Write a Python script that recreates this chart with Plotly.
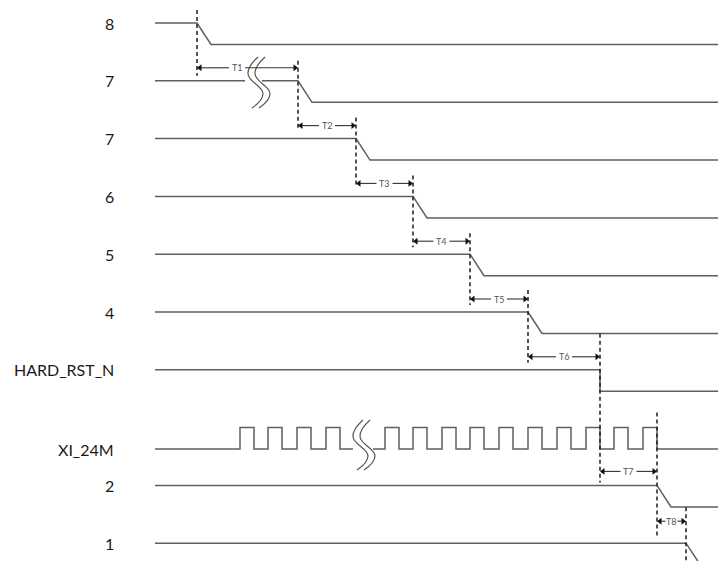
import plotly.graph_objects as go

# ---------------- data ----------------
signal_names = ["8", "7", "7", "6", "5", "4", "HARD_RST_N", "XI_24M", "2", "1"]
# time at which each signal falls (None = clock)
fall_times = [197, 298, 356, 413, 470, 528, 600, None, 657, 686]
edge_style = ["slope", "slope", "slope", "slope", "slope", "slope", "step", "clock", "slope", "slope"]
# clock (XI_24M) rising edges, half period
clock_rises = [240, 268, 297, 326, 385, 413, 442, 470, 499, 528, 557, 586, 614, 643]
clock_half = 14
interval_names = ["T1", "T2", "T3", "T4", "T5", "T6", "T7", "T8"]
interval_edges = [197, 298, 356, 413, 470, 528, 600, 657, 686]

# ---------------- layout parameters ----------------
W, H = 718, 561
x_start, x_end = 155, 720
row_top, row_pitch = 23, 57.8
swing = 21.5
slope_w = 14
line_col = "#5f5f5f"
dash_col = "#1e1e1e"

def row_y(i):
    return row_top + i * row_pitch

fig = go.Figure()

def seg(xs, ys, color=line_col, width=1.5, dash=None, shape="linear"):
    fig.add_trace(go.Scatter(x=xs, y=ys, mode="lines", hoverinfo="skip",
                             line=dict(color=color, width=width, dash=dash, shape=shape,
                                       smoothing=1.3),
                             showlegend=False))

# break gaps (row index -> gap in x)
gaps = {1: (245, 262), 7: (353, 373)}

# signals
for i, (name, ft, st) in enumerate(zip(signal_names, fall_times, edge_style)):
    hi = row_y(i)
    lo = hi + swing
    if st == "clock":
        xs, ys = [x_start], [lo]
        for r in clock_rises:
            xs += [r, r, r + clock_half, r + clock_half]
            ys += [lo, hi, hi, lo]
        xs.append(x_end); ys.append(lo)
        g0, g1 = gaps[i]
        ax, ay, bx, by = [], [], [], []
        for x, y in zip(xs, ys):
            (ax if x <= g0 else bx).append(x)
            (ay if x <= g0 else by).append(y)
        ax.append(g0); ay.append(lo)
        bx.insert(0, g1); by.insert(0, lo)
        seg(ax, ay); seg(bx, by)
        label_y = lo
    else:
        if st == "slope":
            xs = [x_start, ft, ft + slope_w, x_end]
            ys = [hi, hi, lo, lo]
            if i == len(signal_names) - 1:
                xs = [x_start, ft, ft + slope_w * 1.2]
                ys = [hi, hi, lo + 4]
        else:
            xs = [x_start, ft, ft, x_end]
            ys = [hi, hi, lo, lo]
        if i in gaps:
            g0, g1 = gaps[i]
            seg([x_start, g0], [hi, hi])
            seg([g1] + xs[1:], [hi] + ys[1:])
        else:
            seg(xs, ys)
        label_y = hi
    fig.add_annotation(x=116, y=label_y, text=name, showarrow=False, xanchor="right",
                       yanchor="middle", font=dict(family="Lato", size=16, color="#1a1a1a"))

# break squiggles
def squiggle(cx, cy, h):
    pts_x = [cx + 4, cx - 6, cx + 9, cx - 2]
    pts_y = [cy, cy + h * 0.33, cy + h * 0.72, cy + h]
    return pts_x, pts_y

for cx, cy, h in [(254, 57, 51), (359, 420, 50)]:
    for off in (0, 7):
        px, py = squiggle(cx + off, cy, h)
        seg(px, py, color="#555555", width=1.2, shape="spline")

# dashed guide lines (offsets relative to rows)
dash_rows = [(0, -13, 1, -5), (1, -20, 2, -8), (2, -21, 3, -11), (3, -21, 4, -7),
             (4, -21, 5, -7), (5, -22, 6, -7), (6, -36, 8, -3), (8, -73, 9, -5),
             (9, -36, 9, 25)]
for t, (r0, o0, r1, o1) in zip(interval_edges, dash_rows):
    seg([t, t], [row_y(r0) + o0, row_y(r1) + o1], color=dash_col, width=1.5, dash="4px,3px")

# interval arrows
arrow_rows = [1, 2, 3, 4, 5, 6, 8, 9]
arrow_lift = [13, 13, 13, 13, 13, 13, 14, 22]
for k, name in enumerate(interval_names):
    x0, x1 = interval_edges[k], interval_edges[k + 1]
    y = row_y(arrow_rows[k]) - arrow_lift[k]
    xm = (x0 + x1) / 2
    half = 8 if k < 7 else 6
    if k == 0:
        xm = 237
    seg([x0 + 3, xm - half], [y, y], color="#333333", width=1.1)
    seg([xm + half, x1 - 3], [y, y], color="#333333", width=1.1)
    fig.add_trace(go.Scatter(x=[x0 + 3, x1 - 3], y=[y, y], mode="markers", hoverinfo="skip",
                             marker=dict(symbol=["triangle-left", "triangle-right"], size=6,
                                         color="#111111", line=dict(width=0)),
                             showlegend=False))
    fig.add_annotation(x=xm, y=y, text=name, showarrow=False, xanchor="center", yanchor="middle",
                       font=dict(family="Lato", size=9, color="#555555"))

fig.update_layout(width=W, height=H, margin=dict(l=0, r=0, t=0, b=0),
                  paper_bgcolor="white", plot_bgcolor="white",
                  xaxis=dict(range=[0, W], visible=False, fixedrange=True),
                  yaxis=dict(range=[H, 0], visible=False, fixedrange=True))
fig.write_html("out.html", config={"displayModeBar": False, "staticPlot": True},
               post_script="document.body.style.margin='0';document.body.style.overflow='hidden';")
